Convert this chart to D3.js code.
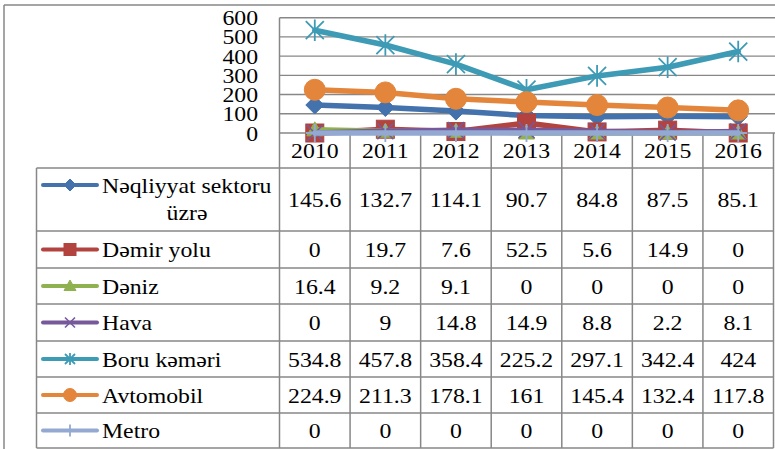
<!DOCTYPE html>
<html>
<head>
<meta charset="utf-8">
<script src="https://cdn.jsdelivr.net/npm/d3@7/dist/d3.min.js"></script>
<style>
  html, body { margin: 0; padding: 0; background: #fff; }
  svg { display: block; }
</style>
</head>
<body>
<svg id="chart" width="775" height="449"></svg>
<script>
// ---------- DATA ----------
const years = ["2010", "2011", "2012", "2013", "2014", "2015", "2016"];
const seriesNames = ["Nəqliyyat sektoru üzrə", "Dəmir yolu", "Dəniz", "Hava", "Boru kəməri", "Avtomobil", "Metro"];
const neqliyyat = [145.6, 132.7, 114.1, 90.7, 84.8, 87.5, 85.1];
const demirYolu = [0, 19.7, 7.6, 52.5, 5.6, 14.9, 0];
const deniz = [16.4, 9.2, 9.1, 0, 0, 0, 0];
const hava = [0, 9, 14.8, 14.9, 8.8, 2.2, 8.1];
const boruKemeri = [534.8, 457.8, 358.4, 225.2, 297.1, 342.4, 424];
const avtomobil = [224.9, 211.3, 178.1, 161, 145.4, 132.4, 117.8];
const metro = [0, 0, 0, 0, 0, 0, 0];
const yTicks = [0, 100, 200, 300, 400, 500, 600];

const seriesValues = [neqliyyat, demirYolu, deniz, hava, boruKemeri, avtomobil, metro];
const colors = ["#4472AC", "#B2433F", "#90B150", "#77599B", "#3E9BB5", "#E3853B", "#93A9D2"];
const markers = ["diamond", "square", "triangle", "x", "star", "circle", "plus"];

// ---------- LAYOUT ----------
const W = 775, H = 449;
const plotLeft = 279.5, plotRight = 773.5;
const gridRight = 775;
const yZero = 133, yTop = 17.7;
const headerBottom = 168;
const rowHeights = [63, 37, 36, 37, 36, 36, 35];
const tableLeft = 36.5;
const FS = 22, SX = 1.08;
const gridColor = "#878787";

const svg = d3.select("#chart");

const x = d3.scaleBand().domain(years).range([plotLeft, plotRight]).padding(0);
const y = d3.scaleLinear().domain([0, 600]).range([yZero, yTop]);

function txt(g, str, tx, ty, anchor) {
  return g.append("text")
    .attr("transform", `translate(${tx},${ty}) scale(${SX},1)`)
    .attr("text-anchor", anchor || "start")
    .attr("font-family", "Liberation Serif")
    .attr("font-size", FS)
    .attr("fill", "#000")
    .text(str);
}

// outer frame
svg.append("line").attr("x1", 4).attr("x2", W).attr("y1", 5).attr("y2", 5)
  .attr("stroke", gridColor).attr("stroke-width", 1.5);
svg.append("line").attr("x1", 4).attr("x2", 4).attr("y1", 5).attr("y2", H)
  .attr("stroke", gridColor).attr("stroke-width", 1.5);

// gridlines
const grid = svg.append("g");
grid.selectAll("line").data(yTicks).join("line")
  .attr("x1", plotLeft).attr("x2", gridRight)
  .attr("y1", d => y(d)).attr("y2", d => y(d))
  .attr("stroke", gridColor).attr("stroke-width", 1.4);

// y-axis labels
const yl = svg.append("g");
yTicks.forEach(t => txt(yl, String(t), 258, y(t) + 7.5, "end"));

// table borders
const tb = svg.append("g").attr("stroke", gridColor).attr("stroke-width", 1.5).attr("fill", "none");
const rowTops = [];
let acc = headerBottom;
rowHeights.forEach(h => { rowTops.push(acc); acc += h; });
const tableBottom = acc;
tb.append("line").attr("x1", plotLeft).attr("x2", plotLeft).attr("y1", yTop).attr("y2", tableBottom);
years.forEach(yr => {
  const xr = x(yr) + x.bandwidth();
  tb.append("line").attr("x1", xr).attr("x2", xr).attr("y1", yZero).attr("y2", tableBottom);
});
tb.append("line").attr("x1", tableLeft).attr("x2", tableLeft).attr("y1", headerBottom).attr("y2", tableBottom);
rowTops.concat([tableBottom]).forEach(ry => {
  tb.append("line").attr("x1", tableLeft).attr("x2", plotRight).attr("y1", ry).attr("y2", ry);
});

// year labels
const xl = svg.append("g");
years.forEach(yr => txt(xl, yr, x(yr) + x.bandwidth() / 2, 158, "middle"));

// marker drawing
function drawMarker(g, type, cx, cy, s, color) {
  const m = g.append("g").attr("transform", `translate(${cx},${cy})`);
  if (type === "diamond") {
    m.append("path").attr("d", `M0,${-s}L${s},0L0,${s}L${-s},0Z`).attr("fill", color).attr("stroke", color).attr("stroke-width", 1);
  } else if (type === "square") {
    m.append("rect").attr("x", -s).attr("y", -s).attr("width", 2 * s).attr("height", 2 * s).attr("fill", color).attr("stroke", color).attr("stroke-width", 1);
  } else if (type === "triangle") {
    m.append("path").attr("d", `M0,${-s}L${s},${s * 0.75}L${-s},${s * 0.75}Z`).attr("fill", color).attr("stroke", color).attr("stroke-width", 1);
  } else if (type === "circle") {
    m.append("circle").attr("r", s).attr("fill", color).attr("stroke", color).attr("stroke-width", 1);
  } else if (type === "x") {
    m.append("path").attr("d", `M${-s},${-s}L${s},${s}M${s},${-s}L${-s},${s}`).attr("stroke", color).attr("stroke-width", 1.6).attr("fill", "none");
  } else if (type === "star") {
    m.append("path").attr("d", `M${-s},${-s}L${s},${s}M${s},${-s}L${-s},${s}M0,${-s * 1.2}L0,${s * 1.2}`).attr("stroke", color).attr("stroke-width", 1.8).attr("fill", "none");
  } else if (type === "plus") {
    m.append("path").attr("d", `M0,${-s}L0,${s}M${-s},0L${s},0`).attr("stroke", color).attr("stroke-width", 1.8).attr("fill", "none");
  }
}
const plotMarkerSize = { diamond: 9, square: 9, triangle: 8, circle: 10.5, x: 8, star: 9, plus: 9 };
const legendMarkerSize = { diamond: 6, square: 6, triangle: 6, circle: 6.5, x: 5, star: 5, plus: 6 };

// series lines + markers
const line = d3.line().x((d, i) => x(years[i]) + x.bandwidth() / 2).y(d => y(d));
const plot = svg.append("g");
seriesValues.forEach((vals, si) => {
  const g = plot.append("g");
  g.append("path").datum(vals).attr("d", line)
    .attr("fill", "none").attr("stroke", colors[si]).attr("stroke-width", 5.5)
    .attr("stroke-linejoin", "round").attr("stroke-linecap", "round");
  vals.forEach((v, i) => drawMarker(g, markers[si], x(years[i]) + x.bandwidth() / 2, y(v), plotMarkerSize[markers[si]], colors[si]));
});

// table rows
const tg = svg.append("g");
seriesValues.forEach((vals, si) => {
  const top = rowTops[si], h = rowHeights[si];
  const cy = si === 0 ? top + 17 : top + h / 2;
  tg.append("line").attr("x1", 43).attr("x2", 97).attr("y1", cy).attr("y2", cy)
    .attr("stroke", colors[si]).attr("stroke-width", 4).attr("stroke-linecap", "round");
  drawMarker(tg, markers[si], 70, cy, legendMarkerSize[markers[si]], colors[si]);
  if (si === 0) {
    txt(tg, "Nəqliyyat sektoru", 102, top + 25);
    txt(tg, "üzrə", 187, top + 52, "middle");
  } else {
    txt(tg, seriesNames[si], 102, top + h / 2 + 7.5);
  }
  vals.forEach((v, i) => txt(tg, String(v), x(years[i]) + x.bandwidth() / 2, top + h / 2 + 7.5, "middle"));
});
</script>
</body>
</html>
